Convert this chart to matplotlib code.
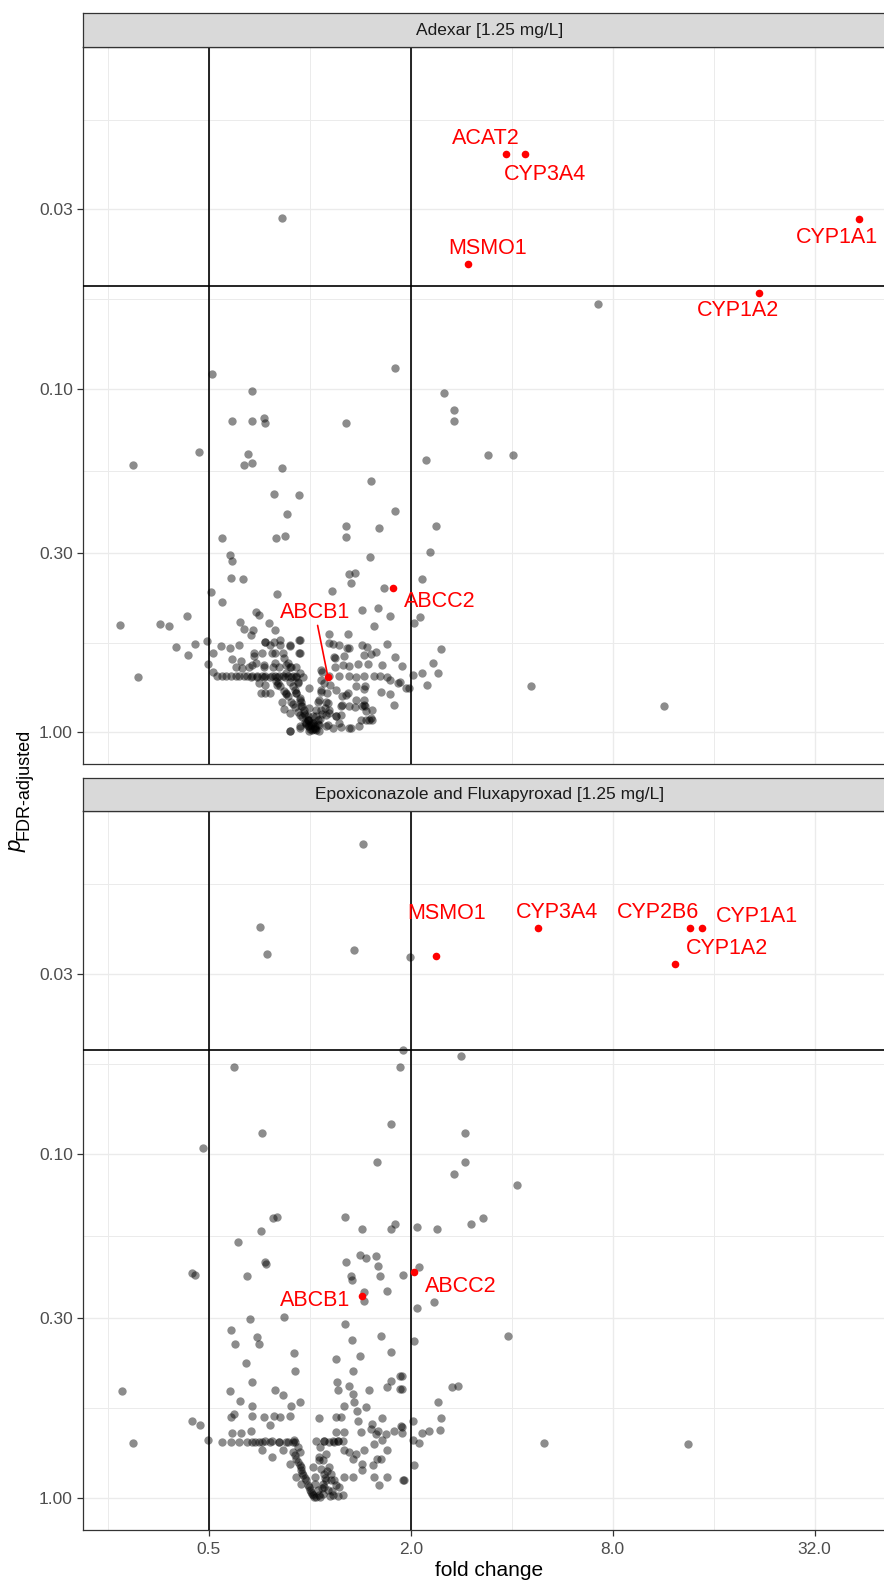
import numpy as np
import matplotlib.pyplot as plt
from matplotlib.ticker import FixedLocator, NullFormatter

plt.rcParams['font.family'] = ['Liberation Sans', 'DejaVu Sans']

# (log2 fold change, -log10 adjusted p) for every measured gene
adexar_bg = [
    (-0.28, 1.497), (2.85, 1.249),
    (-0.97, 1.045), (0.84, 1.060), (-0.57, 0.995), (1.33, 0.987), (1.43, 0.939), (1.43, 0.907),
    (-0.77, 0.907), (-0.57, 0.907), (-0.45, 0.916), (-0.44, 0.901), (0.36, 0.901), (-1.10, 0.818),
    (-1.75, 0.780), (-0.61, 0.810), (-0.65, 0.780), (-0.57, 0.785), (-0.28, 0.771), (1.15, 0.792),
    (0.61, 0.731), (-0.35, 0.693), (-0.11, 0.691), (-0.23, 0.636), (0.84, 0.645), (0.36, 0.601),
    (0.69, 0.595), (1.25, 0.601),
    (1.77, 0.808), (2.01, 0.809), (1.19, 0.525), (1.11, 0.448), (1.09, 0.335), (1.03, 0.319),
    (1.30, 0.244), (1.22, 0.203), (1.27, 0.174), (1.11, 0.174), (1.02, 0.166), (0.91, 0.194),
    (1.16, 0.138), (0.98, 0.129), (0.89, 0.147), (2.19, 0.135), (3.51, 0.077),
    (-0.87, 0.567), (-0.33, 0.567), (-0.25, 0.571), (0.36, 0.569), (-0.79, 0.518), (-0.77, 0.498),
    (0.60, 0.510), (0.39, 0.461), (0.45, 0.464), (0.41, 0.434), (-0.78, 0.451), (-0.66, 0.447),
    (0.74, 0.422), (-0.98, 0.408), (0.22, 0.412), (-0.32, 0.404), (-0.87, 0.381), (0.52, 0.356),
    (0.68, 0.361), (0.79, 0.339), (-0.53, 0.351), (-0.50, 0.342), (-1.22, 0.338), (-1.48, 0.316),
    (-1.39, 0.309), (-1.88, 0.312), (-0.69, 0.321), (-0.40, 0.318), (-0.65, 0.302), (-0.56, 0.298),
    (-0.58, 0.285), (-0.34, 0.298), (0.19, 0.287), (0.38, 0.287), (0.64, 0.310), (-1.32, 0.249),
    (-1.14, 0.257), (-1.21, 0.225), (-1.02, 0.265), (-1.01, 0.200), (-0.96, 0.231), (-1.70, 0.161),
    (-0.88, 0.253), (-0.79, 0.247), (-0.70, 0.254), (-0.44, 0.263), (-0.39, 0.254), (-0.29, 0.255),
    (-0.20, 0.252), (-0.11, 0.269), (-0.11, 0.231), (0.23, 0.257), (0.37, 0.247), (0.52, 0.255),
    (0.61, 0.227), (0.66, 0.234), (0.76, 0.258),
    (0.87, 0.145), (0.83, 0.081), (0.71, 0.118), (0.79, 0.113), (0.59, 0.037), (0.51, 0.037),
    (0.54, 0.081), (0.56, 0.061), (0.62, 0.037), (0.41, 0.013), (0.31, 0.016), (0.45, 0.073),
    (0.32, 0.080), (0.32, 0.105), (0.38, 0.115), (0.46, 0.134), (0.55, 0.134), (0.54, 0.163),
    (0.64, 0.163), (0.70, 0.163), (0.48, 0.200), (0.58, 0.199), (0.39, 0.194), (0.33, 0.197),
    (0.24, 0.219), (0.25, 0.192), (0.12, 0.177), (0.19, 0.163), (0.29, 0.163), (0.39, 0.163),
    (0.11, 0.153), (0.20, 0.139), (0.11, 0.119), (0.26, 0.124), (0.17, 0.115), (0.08, 0.090),
    (0.16, 0.090), (0.06, 0.066), (0.19, 0.057), (0.26, 0.047), (0.18, 0.023), (0.03, 0.010),
    (-0.10, 0.013), (-0.20, 0.005), (-0.02, 0.037), (-0.01, 0.018), (0.03, 0.028), (0.06, 0.008),
    (-0.05, 0.052), (-0.01, 0.071), (-0.08, 0.076), (-0.10, 0.100), (-0.15, 0.124), (-0.01, 0.129),
    (-0.12, 0.148), (-0.17, 0.163), (-0.24, 0.173), (-0.10, 0.173), (-0.14, 0.192), (-0.20, 0.192),
    (-0.28, 0.090), (-0.24, 0.115), (-0.20, 0.058), (-0.26, 0.068), (-0.39, 0.116), (-0.44, 0.139),
    (-0.50, 0.144), (-0.44, 0.163), (-0.30, 0.163), (-0.37, 0.163), (-0.57, 0.163), (-0.65, 0.163),
    (-0.73, 0.163), (-0.83, 0.163), (-0.92, 0.163), (-0.96, 0.176), (-0.60, 0.192), (-0.67, 0.187),
    (-0.73, 0.192), (-0.77, 0.213), (-0.68, 0.209), (-0.55, 0.223), (-0.53, 0.203), (-0.45, 0.192),
    (-0.36, 0.192), (-0.30, 0.192), (-0.34, 0.231), (-0.26, 0.217), (-0.22, 0.203), (-0.32, 0.139),
    (-0.48, 0.116), (-0.44, 0.115),
    (-0.01, 0.037), (0.03, 0.047), (0.01, 0.023), (0.05, 0.013), (-0.04, 0.028), (0.08, 0.037),
    (0.09, 0.023), (-0.06, 0.066), (-0.09, 0.090), (-0.14, 0.115),
    (-0.87, 0.163), (-0.78, 0.163), (-0.70, 0.163), (-0.62, 0.163), (-0.52, 0.163), (-0.47, 0.163),
    (-0.34, 0.163), (-0.27, 0.163), (-0.22, 0.163), (-0.14, 0.163),
    (-0.44, 0.264), (-0.35, 0.264), (-0.29, 0.269), (-0.20, 0.255), (-0.10, 0.269), (-0.55, 0.231),
    (-0.47, 0.231), (-0.37, 0.231), (-0.27, 0.231), (-0.10, 0.231), (-0.57, 0.197), (-0.45, 0.197),
    (-0.34, 0.202), (-0.24, 0.197), (-0.19, 0.192), (-0.58, 0.161), (-0.52, 0.161), (-0.45, 0.161),
    (-0.39, 0.161), (-0.32, 0.161), (-0.25, 0.161), (-0.19, 0.161), (-0.14, 0.161), (-0.07, 0.161),
    (0.46, 0.161), (0.76, 0.161),
    (-0.20, 0.003), (-0.10, 0.018), (-0.01, 0.003), (-0.02, 0.037), (0.03, 0.028), (0.06, 0.047),
    (0.09, 0.003), (0.16, 0.018), (0.23, 0.013), (0.29, 0.028), (0.39, 0.013), (0.49, 0.018),
    (0.56, 0.037), (0.61, 0.042), (0.39, 0.076), (0.31, 0.078), (0.52, 0.076), (0.46, 0.095),
    (0.54, 0.095), (0.16, 0.052), (0.11, 0.066), (0.19, 0.066), (0.26, 0.047), (0.31, 0.052),
    (-0.17, 0.134), (-0.14, 0.115), (-0.10, 0.095), (-0.09, 0.076), (-0.06, 0.057), (-0.02, 0.047),
    (0.01, 0.028), (0.05, 0.018), (-0.12, 0.144), (-0.20, 0.148),
    (0.57, 0.250), (0.54, 0.226), (0.72, 0.197), (0.84, 0.221), (0.79, 0.153), (0.95, 0.129),
    (0.62, 0.066), (0.55, 0.076), (0.36, 0.110), (0.54, 0.126), (0.25, 0.216), (0.34, 0.223),
    (0.39, 0.245), (0.29, 0.255), (0.19, 0.260), (0.11, 0.182), (0.14, 0.144), (0.11, 0.124),
    (0.09, 0.095),
    (-0.33, 0.150), (-0.29, 0.135), (-0.26, 0.120), (-0.22, 0.105), (-0.19, 0.090), (-0.15, 0.075),
    (-0.12, 0.060), (-0.08, 0.045), (-0.05, 0.030), (-0.02, 0.020), (0.00, 0.010), (0.02, 0.006),
    (-0.31, 0.143), (-0.24, 0.112), (-0.17, 0.082), (-0.10, 0.052), (-0.04, 0.024),
    (0.05, 0.010), (0.08, 0.025), (0.10, 0.040), (0.12, 0.055), (0.15, 0.070), (0.18, 0.085),
]

epoxi_bg = [
    (0.53, 1.901), (-0.49, 1.659), (-0.42, 1.580), (0.44, 1.591), (0.99, 1.571), (0.92, 1.302),
    (0.89, 1.252), (1.50, 1.284), (-0.75, 1.252),
    (-1.06, 1.017), (-0.47, 1.062), (0.80, 1.088), (0.67, 0.978), (1.54, 1.062), (1.54, 0.978),
    (1.43, 0.941), (-0.36, 0.813), (-0.32, 0.817), (-0.48, 0.775), (-0.71, 0.743), (0.35, 0.817),
    (0.52, 0.782), (0.80, 0.781), (0.84, 0.797), (1.06, 0.787), (1.26, 0.783), (1.60, 0.797),
    (1.72, 0.813), (0.50, 0.707), (0.56, 0.697), (0.66, 0.703), (-0.44, 0.686), (0.36, 0.686),
    (2.05, 0.910), (1.08, 0.673), (0.92, 0.650), (1.23, 0.569), (1.06, 0.552), (1.96, 0.471),
    (1.03, 0.458), (0.91, 0.354), (0.91, 0.318), (1.41, 0.323), (1.47, 0.326), (1.27, 0.281),
    (1.30, 0.232), (1.29, 0.198), (1.18, 0.196), (1.11, 0.191), (1.02, 0.225), (0.91, 0.207),
    (1.02, 0.170), (1.08, 0.162), (2.32, 0.162), (3.75, 0.157), (1.03, 0.096), (0.93, 0.052),
    (-1.17, 0.655), (-1.14, 0.649), (-0.62, 0.646), (-0.43, 0.681), (0.68, 0.675), (0.70, 0.646),
    (0.41, 0.646), (0.42, 0.634), (0.76, 0.601), (0.54, 0.600), (0.54, 0.574), (-0.26, 0.528),
    (-0.59, 0.521), (-0.78, 0.489), (-0.74, 0.449), (-0.52, 0.468), (-0.50, 0.449), (-0.63, 0.394),
    (-0.57, 0.337), (-0.16, 0.422), (-0.15, 0.371), (0.35, 0.505), (0.42, 0.461), (0.50, 0.412),
    (0.71, 0.471), (0.80, 0.424), (0.26, 0.406), (0.43, 0.370), (0.89, 0.354), (0.80, 0.340),
    (0.89, 0.318), (0.76, 0.323), (0.27, 0.339), (0.28, 0.315), (0.39, 0.325), (0.43, 0.304),
    (0.44, 0.281), (0.59, 0.315), (-1.86, 0.311), (-0.34, 0.315), (-0.27, 0.299), (-0.19, 0.267),
    (-0.10, 0.279), (-0.79, 0.313), (-0.69, 0.284), (-0.57, 0.267), (0.34, 0.268), (0.47, 0.255),
    (0.56, 0.265), (0.72, 0.233), (0.62, 0.217), (0.68, 0.196), (0.75, 0.188), (0.83, 0.197),
    (0.90, 0.210), (0.91, 0.189), (-1.17, 0.224), (-1.09, 0.212), (-1.75, 0.162), (-1.01, 0.168),
    (-0.87, 0.163), (-0.78, 0.163), (-0.70, 0.163), (-0.62, 0.163), (-0.54, 0.163), (-0.47, 0.163),
    (-0.39, 0.163), (-0.30, 0.163), (-0.22, 0.163), (-0.15, 0.163), (0.06, 0.166), (0.14, 0.166),
    (0.23, 0.166), (0.28, 0.166), (0.33, 0.166),
    (0.09, 0.233), (0.26, 0.235), (0.48, 0.226), (0.26, 0.194), (0.34, 0.192), (-0.77, 0.189),
    (-0.68, 0.189), (-0.58, 0.197), (-0.57, 0.239), (-0.45, 0.236), (-0.35, 0.239), (-0.29, 0.236),
    (-0.20, 0.239), (-0.78, 0.236), (-0.75, 0.246),
    (-0.47, 0.139), (-0.37, 0.120), (-0.27, 0.141), (-0.16, 0.168), (-0.10, 0.134), (-0.20, 0.101),
    (-0.09, 0.091), (0.03, 0.091), (0.09, 0.110), (0.16, 0.130), (-0.14, 0.062), (-0.09, 0.043),
    (0.05, 0.062), (0.13, 0.043), (0.21, 0.052), (0.34, 0.062), (0.43, 0.062), (0.52, 0.081),
    (0.52, 0.101), (0.54, 0.139), (0.64, 0.159), (0.72, 0.168), (0.43, 0.115), (0.34, 0.139),
    (0.39, 0.134), (0.46, 0.130), (0.63, 0.096), (0.71, 0.115), (0.76, 0.139), (0.92, 0.052),
    (0.69, 0.038), (0.64, 0.062),
    (-0.57, 0.163), (-0.50, 0.163), (-0.44, 0.166), (-0.37, 0.166), (-0.30, 0.163), (-0.24, 0.163),
    (-0.17, 0.163), (0.14, 0.166), (0.19, 0.163), (0.24, 0.163), (0.28, 0.166),
    (-0.17, 0.134), (-0.14, 0.115), (-0.10, 0.096), (-0.09, 0.081), (-0.07, 0.067), (-0.04, 0.052),
    (-0.01, 0.033), (0.01, 0.018), (0.03, 0.009), (0.06, 0.004), (0.09, 0.009), (0.13, 0.014),
    (0.05, 0.043), (0.08, 0.023),
    (0.11, 0.086), (0.14, 0.072), (0.16, 0.052), (0.14, 0.033), (0.18, 0.023), (0.23, 0.009),
    (0.28, 0.006), (0.33, 0.009), (0.29, 0.033), (0.24, 0.052), (0.21, 0.072), (0.19, 0.091),
    (0.13, 0.110), (0.09, 0.120),
    (0.51, 0.192), (0.61, 0.202), (0.76, 0.062), (0.31, 0.236), (0.66, 0.188), (0.67, 0.115),
    (-0.39, 0.212),
    (-0.15, 0.125), (-0.12, 0.105), (-0.08, 0.075), (-0.05, 0.060), (-0.02, 0.040), (0.00, 0.025),
    (0.02, 0.012), (0.04, 0.005), (0.10, 0.004), (0.12, 0.030), (0.15, 0.060), (0.17, 0.080),
    (0.22, 0.020), (0.26, 0.040), (0.20, 0.006), (-0.12, 0.150), (0.10, 0.150),
]

# highlighted genes
adexar_genes = ['ACAT2', 'CYP3A4', 'MSMO1', 'CYP1A1', 'CYP1A2', 'ABCB1', 'ABCC2']
adexar_gene_lfc = [1.94, 2.13, 1.57, 5.44, 4.45, 0.18, 0.82]
adexar_gene_nlp = [1.683, 1.683, 1.364, 1.496, 1.281, 0.161, 0.422]

epoxi_genes = ['MSMO1', 'CYP3A4', 'CYP2B6', 'CYP1A1', 'CYP1A2', 'ABCC2', 'ABCB1']
epoxi_gene_lfc = [1.25, 2.26, 3.77, 3.88, 3.62, 1.03, 0.52]
epoxi_gene_nlp = [1.576, 1.655, 1.655, 1.655, 1.553, 0.657, 0.587]

panel_titles = ['Adexar [1.25 mg/L]', 'Epoxiconazole and Fluxapyroxad [1.25 mg/L]']
fc_cutoffs = [0.5, 2.0]
p_cutoff = 0.05
x_breaks = [0.5, 2.0, 8.0, 32.0]
x_labels = ['0.5', '2.0', '8.0', '32.0']
y_breaks = [0.03, 0.10, 0.30, 1.00]
y_labels = ['0.03', '0.10', '0.30', '1.00']

# label placement (offset in pixels from the point), and which ones get a leader line
label_offsets = [
    {'ACAT2': (-20, 16), 'CYP3A4': (20, -20), 'MSMO1': (19, 16), 'CYP1A1': (-22, -19),
     'CYP1A2': (-21, -18), 'ABCB1': (-13, 65), 'ABCC2': (47, -14)},
    {'MSMO1': (11, 42), 'CYP3A4': (19, 16), 'CYP2B6': (-32, 16), 'CYP1A1': (55, 12),
     'CYP1A2': (52, 15), 'ABCC2': (47, -14), 'ABCB1': (-47, -4)},
]
leader_lines = [{'ABCB1'}, set()]

panels = [
    (adexar_bg, adexar_genes, adexar_gene_lfc, adexar_gene_nlp),
    (epoxi_bg, epoxi_genes, epoxi_gene_lfc, epoxi_gene_nlp),
]

# shared scales, padded by 5% like ggplot
all_lfc = [p[0] for p in adexar_bg + epoxi_bg] + adexar_gene_lfc + epoxi_gene_lfc
all_nlp = [p[1] for p in adexar_bg + epoxi_bg] + adexar_gene_nlp + epoxi_gene_nlp
xlo, xhi = min(all_lfc), max(all_lfc)
xpad = 0.05 * (xhi - xlo)
ylo, yhi = min(all_nlp), max(all_nlp)
ypad = 0.05 * (yhi - ylo)

W, H = 884, 1581
fig = plt.figure(figsize=(W / 100, H / 100), dpi=100)


def box(x0, y0, x1, y1):
    return [x0 / W, 1 - y1 / H, (x1 - x0) / W, (y1 - y0) / H]


panel_boxes = [(83, 47, 896, 764), (83, 811, 896, 1530)]
strip_boxes = [(83, 13, 896, 47), (83, 778, 896, 811)]
edge = '#333333'

for i, (bg, genes, glfc, gnlp) in enumerate(panels):
    ax = fig.add_axes(box(*panel_boxes[i]))
    ax.set_xscale('log', base=2)
    ax.set_yscale('log')
    ax.set_axisbelow(True)

    lfc = np.array([p[0] for p in bg])
    nlp = np.array([p[1] for p in bg])
    ax.scatter(2.0 ** lfc, 10.0 ** -nlp, s=36, c='black', alpha=0.45,
               linewidths=0, zorder=2)

    for v in fc_cutoffs:
        ax.axvline(v, color='black', lw=1.2, zorder=3)
    ax.axhline(p_cutoff, color='black', lw=1.2, zorder=3)

    gx = 2.0 ** np.array(glfc)
    gy = 10.0 ** -np.array(gnlp)
    ax.scatter(gx, gy, s=30, c='#FF0000', linewidths=0, zorder=4)
    for name, x, y in zip(genes, gx, gy):
        dx, dy = label_offsets[i][name]
        arrow = None
        if name in leader_lines[i]:
            arrow = dict(arrowstyle='-', color='#FF0000', lw=1.2,
                         shrinkA=0, shrinkB=0)
        ax.annotate(name, (x, y), xytext=(dx, dy), textcoords='offset pixels',
                    ha='center', va='center', fontsize=15.5, color='#FF0000',
                    arrowprops=arrow, zorder=5)

    ax.set_xlim(2.0 ** (xlo - xpad), 2.0 ** (xhi + xpad))
    ax.set_ylim(10.0 ** -(ylo - ypad), 10.0 ** -(yhi + ypad))

    ax.xaxis.set_major_locator(FixedLocator(x_breaks))
    ax.xaxis.set_minor_locator(FixedLocator([0.25, 1.0, 4.0, 16.0]))
    ax.yaxis.set_major_locator(FixedLocator(y_breaks))
    ax.yaxis.set_minor_locator(FixedLocator([0.0165, 0.0548, 0.1733, 0.548]))
    ax.xaxis.set_minor_formatter(NullFormatter())
    ax.yaxis.set_minor_formatter(NullFormatter())
    ax.set_yticklabels(y_labels)
    if i == len(panels) - 1:
        ax.set_xticklabels(x_labels)
        ax.tick_params(axis='x', which='major', length=4.3, width=0.9, color=edge,
                       labelsize=12.5, labelcolor='#4D4D4D', pad=4)
    else:
        ax.tick_params(axis='x', which='major', length=0, labelbottom=False)
    ax.tick_params(axis='y', which='major', length=4.3, width=0.9, color=edge,
                   labelsize=12.5, labelcolor='#4D4D4D', pad=3)
    ax.tick_params(which='minor', length=0)

    ax.grid(which='major', color='#EBEBEB', lw=1.0)
    ax.grid(which='minor', color='#EBEBEB', lw=0.7)
    for s in ax.spines.values():
        s.set_color(edge)
        s.set_linewidth(0.9)

    sax = fig.add_axes(box(*strip_boxes[i]))
    sax.set_facecolor('#D9D9D9')
    sax.set_xticks([])
    sax.set_yticks([])
    for s in sax.spines.values():
        s.set_color(edge)
        s.set_linewidth(0.9)
    sax.text(0.5, 0.5, panel_titles[i], transform=sax.transAxes, ha='center',
             va='center', fontsize=12.5, color='#1A1A1A')

fig.text(489 / W, 1 - 1571 / H, 'fold change', ha='center', va='center',
         fontsize=15, color='black')
fig.text(22 / W, 1 - 852 / H, 'p', rotation=90, rotation_mode='anchor',
         ha='left', va='baseline', fontsize=16, style='italic')
fig.text(28 / W, 1 - 840 / H, 'FDR-adjusted', rotation=90, rotation_mode='anchor',
         ha='left', va='baseline', fontsize=13)

fig.savefig('out.png', dpi=100)
